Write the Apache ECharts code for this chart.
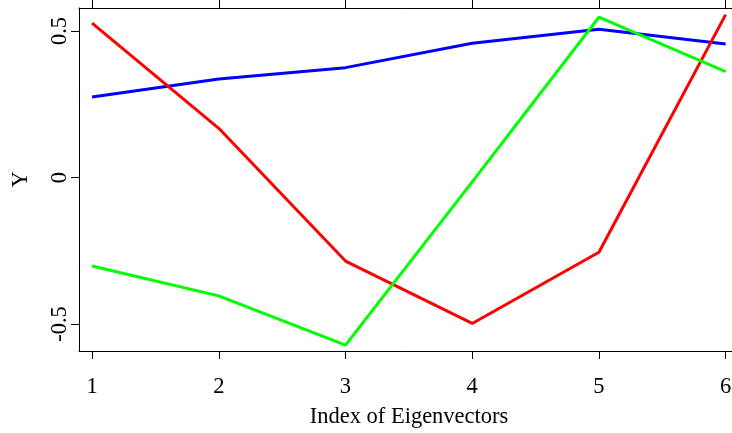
<!DOCTYPE html>
<html>
<head>
<meta charset="utf-8">
<script src="https://cdn.jsdelivr.net/npm/echarts@6/dist/echarts.min.js"></script>
<style>
  html, body { margin: 0; padding: 0; background: #fff; }
  #chart { width: 732px; height: 433px; }
</style>
</head>
<body>
<div id="chart"></div>
<script>
// index of eigenvector on x, loading on y
const indexList = [1, 2, 3, 4, 5, 6]
const blueValues = [0.275, 0.336, 0.375, 0.458, 0.506, 0.456]
const redValues = [0.527, 0.168, -0.285, -0.498, -0.255, 0.556]
const greenValues = [-0.302, -0.404, -0.572, -0.015, 0.547, 0.361]
const xTicks = [1, 2, 3, 4, 5, 6]
const yTicks = [-0.5, 0, 0.5]

const font = 'Liberation Serif'
const fontSize = 22.5

function pairs(values) {
  return values.map((v, i) => [indexList[i], v])
}

function line(name, color, values) {
  return {
    name: name,
    type: 'line',
    data: pairs(values),
    symbol: 'none',
    lineStyle: { color: color, width: 3 },
    itemStyle: { color: color },
    animation: false
  }
}

const chart = echarts.init(document.getElementById('chart'), null, { renderer: 'canvas' })
const option = {
  backgroundColor: '#ffffff',
  grid: {
    left: 79,
    top: 8,
    bottom: 82,
    right: -19,
    outerBoundsMode: 'none',
    containLabel: false
  },
  xAxis: [{
    type: 'value',
    min: 0.897,
    max: 6.2,
    name: 'Index of Eigenvectors',
    nameLocation: 'middle',
    nameGap: 55,
    nameTextStyle: { fontFamily: font, fontSize: fontSize, color: '#000', padding: [0, 12, 0, 0] },
    axisLine: { show: true, onZero: false, lineStyle: { color: '#000', width: 1 } },
    axisTick: { show: true, length: 8, customValues: xTicks, lineStyle: { color: '#000' } },
    axisLabel: {
      customValues: xTicks,
      margin: 25,
      fontFamily: font,
      fontSize: fontSize,
      color: '#000'
    },
    splitLine: { show: false }
  }, {
    type: 'value',
    position: 'top',
    min: 0.897,
    max: 6.2,
    axisLine: { show: true, onZero: false, lineStyle: { color: '#000', width: 1 } },
    axisTick: { show: true, length: 8, customValues: xTicks, lineStyle: { color: '#000' } },
    axisLabel: { show: false },
    splitLine: { show: false }
  }],
  yAxis: {
    type: 'value',
    min: -0.592,
    max: 0.5785,
    name: 'Y',
    nameLocation: 'middle',
    nameGap: 46,
    nameRotate: 90,
    nameTextStyle: { fontFamily: font, fontSize: fontSize, color: '#000' },
    axisLine: { show: true, onZero: false, lineStyle: { color: '#000', width: 1 } },
    axisTick: { show: true, length: 8, customValues: yTicks, lineStyle: { color: '#000' } },
    axisLabel: {
      customValues: yTicks,
      rotate: 90,
      margin: 7,
      fontFamily: font,
      fontSize: fontSize,
      color: '#000',
      formatter: v => String(v)
    },
    splitLine: { show: false }
  },
  series: [
    line('blue', '#0000ff', blueValues),
    line('red', '#ff0000', redValues),
    line('green', '#00ff00', greenValues)
  ]
}
chart.setOption(option)
</script>
</body>
</html>
